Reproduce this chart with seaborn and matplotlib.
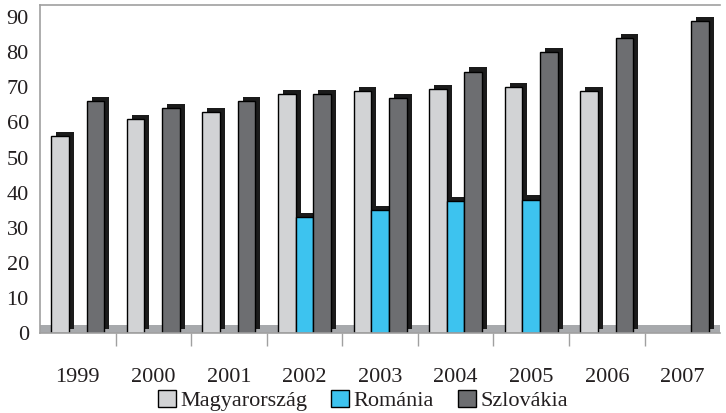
import matplotlib.pyplot as plt
import matplotlib.patheffects as pe
import matplotlib.ticker as mtick
import numpy as np
import pandas as pd
import seaborn as sns

years = ["1999", "2000", "2001", "2002", "2003", "2004", "2005", "2006", "2007"]
countries = ["Magyarország", "Románia", "Szlovákia"]
magyar = [56, 61, 63, 68, 69, 69.5, 70, 69, np.nan]
romania = [np.nan, np.nan, np.nan, 33, 35, 37.5, 38, np.nan, np.nan]
szlovakia = [66, 64, 66, 68, 67, 74.5, 80, 84, 89]

colors = ["#D2D3D5", "#3DC3EF", "#6D6E71"]

df = pd.DataFrame({"year": years * 3,
                   "country": np.repeat(countries, len(years)),
                   "value": magyar + romania + szlovakia}).dropna()

sns.set_style("white")
plt.rcParams["font.family"] = ["Liberation Serif", "DejaVu Serif"]

fig = plt.figure(figsize=(7.26, 4.13), dpi=100)
ax = fig.add_axes([0.055, 0.194, 0.937, 0.794])

sns.barplot(data=df, x="year", y="value", hue="country", order=years,
            hue_order=countries, palette=colors, width=0.7, errorbar=None,
            edgecolor="black", linewidth=1, saturation=1, ax=ax, legend=True)

# fake 3d side faces
shade = [pe.SimplePatchShadow(offset=(3.6, 3), shadow_rgbFace="#1b1b1b", alpha=1),
         pe.Normal()]
for p in ax.patches:
    if p.get_height() > 0:
        p.set_path_effects(shade)
        p.set_zorder(2)

# floor
ax.axhspan(0, 2.3, color="#A7A9AC", zorder=0, lw=0)

ax.set_xlim(-0.5, len(years) - 0.5)
ax.set_ylim(0, 93.5)
ax.set_yticks(range(0, 91, 10))
ax.set_xlabel("")
ax.set_ylabel("")

ax.xaxis.set_minor_locator(mtick.FixedLocator(np.arange(0.5, len(years) - 0.5)))
ax.tick_params(axis="x", which="minor", length=9, color="#A0A0A0", width=1, bottom=True)
ax.tick_params(axis="x", which="major", length=0, pad=25, labelsize=16, colors="#231F20")
ax.tick_params(axis="y", length=0, pad=8, labelsize=16, colors="#231F20")

for side in ["left", "top", "bottom"]:
    ax.spines[side].set_color("#A0A0A0")
    ax.spines[side].set_linewidth(1.2)
ax.spines["right"].set_visible(False)

handles, labels = ax.get_legend_handles_labels()
ax.get_legend().remove()
leg = fig.legend(handles, labels, loc="center", bbox_to_anchor=(0.5, 0.03), ncol=3,
                 frameon=False, fontsize=16, handlelength=0.8, handleheight=0.8,
                 handletextpad=0.2, columnspacing=1.1, borderpad=0)
for h in leg.legend_handles:
    h.set_edgecolor("black")
    h.set_path_effects([])
for t in leg.get_texts():
    t.set_color("#231F20")

plt.savefig("out.png", dpi=100)
